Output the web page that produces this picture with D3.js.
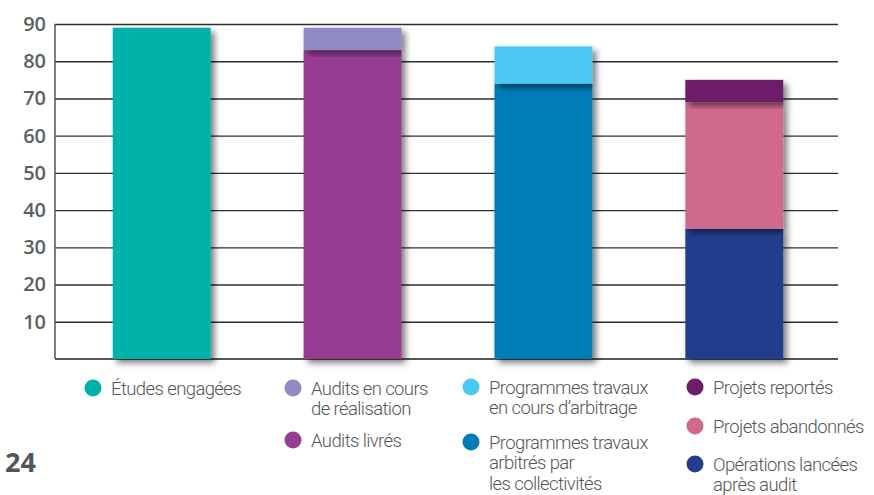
<!DOCTYPE html>
<html>
<head>
<meta charset="utf-8">
<script src="https://cdn.jsdelivr.net/npm/d3@7"></script>
<style>
  body { margin: 0; background: #fff; }
  svg { display: block; }
  .tick text { font-family: "Open Sans", sans-serif; font-weight: 600; fill: #5d6060; }
  .legend text { font-family: Roboto, sans-serif; font-weight: 300; fill: #555; letter-spacing: -0.6px; }
</style>
</head>
<body>
<div id="chart"></div>
<script>
"use strict";

// one entry per bar, no category labels under the axis
var bars = ["b1", "b2", "b3", "b4"];

// values, bottom segment first
var etudes        = [89, 0, 0, 0];
var auditsLivres  = [0, 83, 0, 0];
var auditsEnCours = [0, 6, 0, 0];
var progArbitres  = [0, 0, 74, 0];
var progEnCours   = [0, 0, 10, 0];
var operations    = [0, 0, 0, 35];
var abandonnes    = [0, 0, 0, 34];
var reportes      = [0, 0, 0, 6];

var yTicks = [10, 20, 30, 40, 50, 60, 70, 80, 90];

var seriesKeys = ["etudes", "auditsLivres", "auditsEnCours", "progArbitres",
                  "progEnCours", "operations", "abandonnes", "reportes"];
var seriesValues = [etudes, auditsLivres, auditsEnCours, progArbitres,
                    progEnCours, operations, abandonnes, reportes];
var colors = {
  etudes: "#00b2a9", auditsLivres: "#963e92", auditsEnCours: "#8f8ac3",
  progArbitres: "#007cb8", progEnCours: "#4cc9f2", operations: "#243e8e",
  abandonnes: "#cf6a8e", reportes: "#6c1f69"
};

// legend: columns of items, each item has its lines of text
var legendItems = [
  { key: "etudes",        col: 0, y: 388, lines: ["Études engagées"] },
  { key: "auditsEnCours", col: 1, y: 388, lines: ["Audits en cours", "de réalisation"] },
  { key: "auditsLivres",  col: 1, y: 440, lines: ["Audits livrés"] },
  { key: "progEnCours",   col: 2, y: 387, lines: ["Programmes travaux", "en cours d’arbitrage"] },
  { key: "progArbitres",  col: 2, y: 442, lines: ["Programmes travaux", "arbitrés par", "les collectivités"] },
  { key: "reportes",      col: 3, y: 387, lines: ["Projets reportés"] },
  { key: "abandonnes",    col: 3, y: 426, lines: ["Projets abandonnés"] },
  { key: "operations",    col: 3, y: 464, lines: ["Opérations lancées", "après audit"] }
];
var legendCols = [93, 293, 471, 695];

var W = 874, H = 495;
var mLeft = 55, mRight = 838, mTop = 24, mBottom = 359;

var svg = d3.select("#chart").append("svg")
  .attr("width", W).attr("height", H);

var defs = svg.append("defs");
var f = defs.append("filter").attr("id", "shadow")
  .attr("x", "-20%").attr("y", "-20%").attr("width", "150%").attr("height", "150%");
f.append("feDropShadow")
  .attr("dx", 4).attr("dy", 4).attr("stdDeviation", 3)
  .attr("flood-color", "#000").attr("flood-opacity", 0.5);

var y = d3.scaleLinear().domain([0, 90]).range([mBottom, mTop]);
var x = d3.scaleBand().domain(bars).range([66, 830])
  .paddingInner(0.487).paddingOuter(0.245);

// grid lines through the axis generator
var grid = svg.append("g")
  .attr("transform", "translate(" + mLeft + ",0)")
  .call(d3.axisLeft(y).tickValues(yTicks).tickSize(-(mRight - mLeft)).tickPadding(9).tickFormat(d3.format("d")));
grid.select(".domain").remove();
grid.selectAll(".tick line").attr("stroke", "#2e2e2e").attr("stroke-width", 1.4);
grid.selectAll(".tick text").attr("font-size", 20);

// left and bottom axis lines
svg.append("line").attr("x1", mLeft).attr("x2", mLeft).attr("y1", y(90)).attr("y2", mBottom)
  .attr("stroke", "#555").attr("stroke-width", 1.5);
svg.append("line").attr("x1", mLeft).attr("x2", mRight).attr("y1", mBottom).attr("y2", mBottom)
  .attr("stroke", "#555").attr("stroke-width", 2);

// stacked data
var table = bars.map(function (b, i) {
  var row = { bar: b };
  seriesKeys.forEach(function (k, j) { row[k] = seriesValues[j][i]; });
  return row;
});
var stacked = d3.stack().keys(seriesKeys)(table);

stacked.forEach(function (layer) {
  svg.append("g").selectAll("rect")
    .data(layer.filter(function (d) { return d[1] - d[0] > 0; }))
    .enter().append("rect")
    .attr("x", function (d) { return x(d.data.bar); })
    .attr("width", x.bandwidth())
    .attr("y", function (d) { return y(d[1]); })
    .attr("height", function (d) { return y(d[0]) - y(d[1]); })
    .attr("fill", colors[layer.key])
    .attr("filter", "url(#shadow)");
});

// legend
var lg = svg.append("g").attr("class", "legend");
legendItems.forEach(function (it) {
  var cx = legendCols[it.col];
  lg.append("circle").attr("cx", cx).attr("cy", it.y).attr("r", 8.5).attr("fill", colors[it.key]);
  var t = lg.append("text").attr("x", cx + 18).attr("y", it.y + 6.5).attr("font-size", 18.5);
  it.lines.forEach(function (s, i) {
    t.append("tspan").attr("x", cx + 18).attr("dy", i === 0 ? 0 : 20.5).text(s);
  });
});

// page number
svg.append("text").attr("x", 5).attr("y", 472)
  .attr("font-family", "Open Sans, sans-serif").attr("font-weight", 700)
  .attr("font-size", 27).attr("fill", "#505757").text("24");
</script>
</body>
</html>
